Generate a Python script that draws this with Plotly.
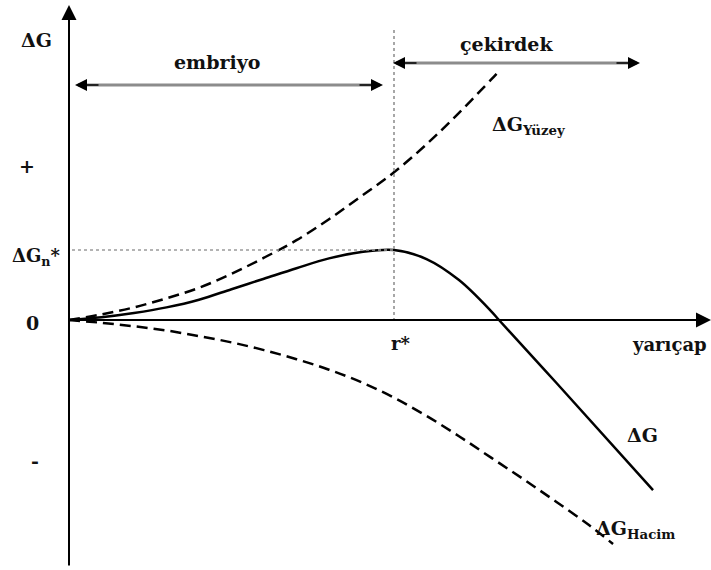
import plotly.graph_objects as go

# ---- data (r in units of r*, dG in units of dG_n*) ----
r_yuzey = [0, 0.1, 0.2, 0.3, 0.4, 0.5, 0.6, 0.7, 0.8, 0.9, 1.0, 1.1, 1.2, 1.3, 1.32]
dg_yuzey = [0, 0.08, 0.18, 0.31, 0.46, 0.66, 0.89, 1.14, 1.44, 1.77, 2.11, 2.51, 2.96, 3.44, 3.54]

r_toplam = [0, 0.1, 0.2, 0.3, 0.4, 0.5, 0.6, 0.7, 0.8, 0.9, 1.0, 1.1, 1.2, 1.3, 1.323, 1.5, 1.797]
dg_toplam = [0, 0.04, 0.10, 0.18, 0.29, 0.44, 0.59, 0.74, 0.88, 0.97, 1.0, 0.87, 0.57, 0.12, 0.0, -0.90, -2.43]

r_hacim = [0, 0.1, 0.2, 0.3, 0.4, 0.5, 0.6, 0.7, 0.8, 0.9, 1.0, 1.1, 1.2, 1.3, 1.4, 1.5, 1.6, 1.674]
dg_hacim = [0, -0.04, -0.09, -0.15, -0.23, -0.32, -0.43, -0.56, -0.71, -0.89, -1.11, -1.37, -1.66,
            -1.97, -2.28, -2.60, -2.93, -3.20]

r_star = 1.0
dg_star = 1.0

# ---- layout helpers (pixel -> data) ----
W, H = 711, 570
OX, OY = 69, 320
SX, SY = 325.0, 70.0


def X(px):
    return (px - OX) / SX


def Y(py):
    return (OY - py) / SY


FONT = "DejaVu Serif"
TXT = "#111111"

fig = go.Figure()

dash = "11px,6px"
fig.add_trace(go.Scatter(x=r_yuzey, y=dg_yuzey, mode="lines",
                         line=dict(color="black", width=2.5, dash=dash, shape="spline"),
                         hoverinfo="skip"))
fig.add_trace(go.Scatter(x=r_hacim, y=dg_hacim, mode="lines",
                         line=dict(color="black", width=2.5, dash=dash, shape="spline"),
                         hoverinfo="skip"))
fig.add_trace(go.Scatter(x=r_toplam, y=dg_toplam, mode="lines",
                         line=dict(color="black", width=2.5, shape="spline"),
                         hoverinfo="skip"))

shapes = []
# dotted guides
shapes.append(dict(type="line", x0=X(72), x1=r_star, y0=dg_star, y1=dg_star,
                   line=dict(color="#9a9a9a", width=1.5, dash="dot")))
shapes.append(dict(type="line", x0=r_star, x1=r_star, y0=Y(30), y1=0,
                   line=dict(color="#8a8a8a", width=1.5, dash="dot")))
# region arrows (grey shafts)
shapes.append(dict(type="line", x0=X(78), x1=X(380), y0=Y(85), y1=Y(85),
                   line=dict(color="#8c8c8c", width=3)))
shapes.append(dict(type="line", x0=X(396), x1=X(637), y0=Y(63), y1=Y(63),
                   line=dict(color="#8c8c8c", width=3)))

ann = []


def arrow(tipx, tipy, tailx, taily, width=2, size=1.3, color="black"):
    ann.append(dict(x=X(tipx), y=Y(tipy), ax=X(tailx), ay=Y(taily), xref="x", yref="y",
                    axref="x", ayref="y", text="", showarrow=True, arrowhead=2,
                    arrowsize=size, arrowwidth=width, arrowcolor=color, standoff=0))


# axes with arrowheads
arrow(69, 5, 69, 567, width=2, size=1.5)
arrow(711, 320, 69, 320, width=2, size=1.5)
# arrowheads of the region arrows
arrow(75, 85, 100, 85, width=1.6, size=1.5)
arrow(383, 85, 358, 85, width=1.6, size=1.5)
arrow(393, 63, 418, 63, width=1.6, size=1.5)
arrow(640, 63, 615, 63, width=1.6, size=1.5)


def text(s, px, py, size=19, xanchor="center"):
    ann.append(dict(x=X(px), y=Y(py), xref="x", yref="y", text=s, showarrow=False,
                    xanchor=xanchor, yanchor="middle",
                    font=dict(family=FONT, size=size, color=TXT)))


text("<b>ΔG</b>", 36, 40)
text("<b>embriyo</b>", 217, 62)
text("<b>çekirdek</b>", 506, 44)
text("<b>+</b>", 27, 166)
text("<b>ΔG<sub>n</sub>*</b>", 10, 257, size=18, xanchor="left")
text("<b>0</b>", 32, 323)
text("<b>-</b>", 35, 461)
text("<b>r*</b>", 400, 343, size=18)
text("<b>yarıçap</b>", 709, 344, size=18, xanchor="right")
text("<b>ΔG</b>", 642, 435)
text("<b>ΔG<sub>Yüzey</sub></b>", 490, 125, xanchor="left")
text("<b>ΔG<sub>Hacim</sub></b>", 594, 529, xanchor="left")

fig.update_layout(
    width=W, height=H,
    margin=dict(l=0, r=0, t=0, b=0),
    paper_bgcolor="white", plot_bgcolor="white",
    showlegend=False,
    xaxis=dict(visible=False, range=[X(0), X(W)], fixedrange=True),
    yaxis=dict(visible=False, range=[Y(H), Y(0)], fixedrange=True),
    shapes=shapes,
    annotations=ann,
)

fig.write_html("out.html",
               config={"displayModeBar": False},
               post_script="document.body.style.margin='0px';document.body.style.overflow='hidden';")
